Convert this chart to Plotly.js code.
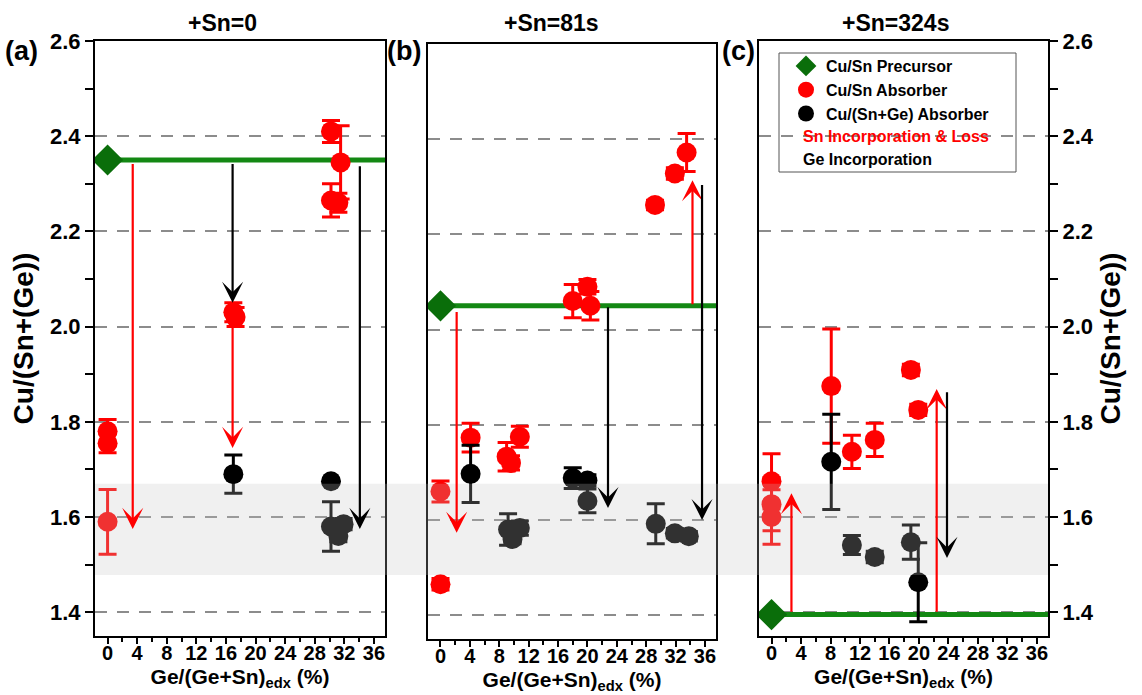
<!DOCTYPE html>
<html>
<head>
<meta charset="utf-8">
<script src="https://cdn.plot.ly/plotly-3.0.1.min.js"></script>
<style>
  html, body { margin: 0; padding: 0; background: #fff; }
  #chart { width: 1142px; height: 695px; }
</style>
</head>
<body>
<div id="chart"></div>
<script>
// ---- panel captions ----
const panelTitles = ['+Sn=0', '+Sn=81s', '+Sn=324s'];
const panelLetters = ['(a)', '(b)', '(c)'];
const legendNames = ['Cu/Sn Precursor', 'Cu/Sn Absorber', 'Cu/(Sn+Ge) Absorber'];
const legendNotes = ['Sn Incorporation & Loss', 'Ge Incorporation'];

// ---- Cu/Sn precursor ratio for each panel (Ge/(Ge+Sn) = 0) ----
const precursorX = [0, 0, 0];
const precursorY = [2.35, 2.05, 1.395];

// ---- panel (a): +Sn = 0 ----
const snA_x   = [0, 0, 0, 17, 17.3, 30.2, 31.5, 30.2, 31.2];
const snA_y   = [1.78, 1.755, 1.59, 2.03, 2.02, 2.41, 2.345, 2.265, 2.26];
const snA_err = [0.025, 0.02, 0.068, 0.02, 0.02, 0.023, 0.077, 0.035, 0.02];
const geA_x   = [17, 30.2, 30.2, 31.9, 31.2];
const geA_y   = [1.69, 1.675, 1.58, 1.585, 1.56];
const geA_err = [0.04, 0, 0.052, 0.012, 0.012];

// ---- panel (b): +Sn = 81 s ----
const snB_x   = [0, 0, 4.1, 9, 9.6, 10.8, 18, 20, 20.4, 29.2, 31.9, 33.5];
const snB_y   = [1.66, 1.465, 1.773, 1.733, 1.72, 1.775, 2.06, 2.09, 2.05, 2.262, 2.328, 2.372];
const snB_err = [0.022, 0.012, 0.03, 0.03, 0.015, 0.022, 0.035, 0.015, 0.03, 0.01, 0.012, 0.04];
const geB_x   = [4.1, 9.2, 10.8, 9.8, 18, 20, 20, 29.3, 31.9, 33.8];
const geB_y   = [1.697, 1.58, 1.583, 1.56, 1.688, 1.683, 1.64, 1.592, 1.572, 1.566];
const geB_err = [0.06, 0.033, 0.015, 0.01, 0.022, 0.012, 0.025, 0.042, 0.01, 0.01];

// ---- panel (c): +Sn = 324 s ----
const snC_x   = [0, 0, 0, 8.1, 10.9, 14, 18.9, 19.9];
const snC_y   = [1.675, 1.627, 1.6, 1.875, 1.737, 1.762, 1.909, 1.825];
const snC_err = [0.058, 0.056, 0.057, 0.12, 0.035, 0.035, 0.012, 0.012];
const geC_x   = [8.1, 10.9, 14, 18.9, 19.9];
const geC_y   = [1.716, 1.541, 1.516, 1.547, 1.463];
const geC_err = [0.1, 0.02, 0.012, 0.036, 0.083];

// ---- trend arrows: x position, start ratio, end ratio, kind ('sn' red / 'ge' black) ----
const arrowA_x = [3.4, 16.9, 16.9, 34.1];
const arrowA_from = [2.345, 2.345, 2.005, 2.34];
const arrowA_to = [1.575, 2.05, 1.745, 1.575];
const arrowA_kind = ['sn', 'ge', 'sn', 'ge'];

const arrowB_x = [2.2, 22.8, 34.3, 35.6];
const arrowB_from = [2.04, 2.05, 2.05, 2.307];
const arrowB_to = [1.573, 1.625, 2.314, 1.6];
const arrowB_kind = ['sn', 'ge', 'sn', 'ge'];

const arrowC_x = [2.7, 22.4, 23.8];
const arrowC_from = [1.398, 1.398, 1.865];
const arrowC_to = [1.65, 1.869, 1.514];
const arrowC_kind = ['sn', 'sn', 'ge'];

// stoichiometry window shaded across all panels
const bandY = [1.478, 1.67];

// ---- styling ----
const FONT = 'Liberation Sans, Arial, Helvetica, sans-serif';
const RED = '#ff0000';
const BLACK = '#000000';
const GREEN_MARK = '#0a6e0a';
const GREEN_LINE = '#138813';
const X_RANGE = [-1.7, 37.5];
const Y_RANGE = [1.35, 2.6];
const W = 1142, H = 695;

// panel boxes in pixels [left, right, top, bottom]
const boxes = [[95, 385, 41, 636], [428, 716, 44, 639], [759, 1048, 41, 636]];

const panels = [
  { sx: snA_x, sy: snA_y, se: snA_err, gx: geA_x, gy: geA_y, ge: geA_err,
    ax: arrowA_x, af: arrowA_from, at: arrowA_to, ak: arrowA_kind },
  { sx: snB_x, sy: snB_y, se: snB_err, gx: geB_x, gy: geB_y, ge: geB_err,
    ax: arrowB_x, af: arrowB_from, at: arrowB_to, ak: arrowB_kind },
  { sx: snC_x, sy: snC_y, se: snC_err, gx: geC_x, gy: geC_y, ge: geC_err,
    ax: arrowC_x, af: arrowC_from, at: arrowC_to, ak: arrowC_kind }
];

const traces = [];
const annotations = [];
const layout = {
  width: W, height: H,
  margin: { l: 0, r: 0, t: 0, b: 0 },
  paper_bgcolor: '#fff', plot_bgcolor: '#fff',
  font: { family: FONT, color: '#000' },
  showlegend: true,
  legend: {
    x: 786 / W, y: 1 - 49 / H, xanchor: 'left', yanchor: 'top',
    bgcolor: 'rgba(0,0,0,0)', borderwidth: 0,
    font: { family: FONT, size: 16, weight: 'bold' },
    itemclick: false, tracegroupgap: 0
  },
  shapes: [],
  annotations: annotations
};

panels.forEach((p, i) => {
  const n = i === 0 ? '' : String(i + 1);
  const xa = 'x' + n, ya = 'y' + n;
  const [L, R, T, B] = boxes[i];
  const legendOn = i === 2;

  // precursor level line
  traces.push({
    x: [precursorX[i], X_RANGE[1]], y: [precursorY[i], precursorY[i]],
    xaxis: xa, yaxis: ya, mode: 'lines', showlegend: false, hoverinfo: 'skip',
    line: { color: GREEN_LINE, width: 5 }
  });
  // Cu/Sn absorber
  traces.push({
    x: p.sx, y: p.sy, xaxis: xa, yaxis: ya, mode: 'markers',
    name: legendNames[1], legendgroup: 'sn', showlegend: legendOn, legendrank: 2,
    marker: { color: RED, size: 20, symbol: 'circle' },
    error_y: { type: 'data', array: p.se, visible: true, color: RED, thickness: 3, width: 9 }
  });
  // Cu/(Sn+Ge) absorber
  traces.push({
    x: p.gx, y: p.gy, xaxis: xa, yaxis: ya, mode: 'markers',
    name: legendNames[2], legendgroup: 'ge', showlegend: legendOn, legendrank: 3,
    marker: { color: BLACK, size: 20, symbol: 'circle' },
    error_y: { type: 'data', array: p.ge, visible: true, color: BLACK, thickness: 3, width: 9 }
  });
  // precursor marker
  traces.push({
    x: [precursorX[i]], y: [precursorY[i]], xaxis: xa, yaxis: ya, mode: 'markers',
    name: legendNames[0], legendgroup: 'pre', showlegend: legendOn, legendrank: 1,
    marker: { color: GREEN_MARK, size: 24, symbol: 'diamond' }
  });

  // axes
  layout['xaxis' + n] = {
    domain: [L / W, R / W], range: X_RANGE, anchor: ya,
    tick0: 0, dtick: 4, ticks: 'outside', ticklen: 6, tickwidth: 2, tickcolor: '#000',
    ticklabelstandoff: -8,
    minor: { dtick: 2, ticks: 'outside', ticklen: 4, tickwidth: 2, tickcolor: '#000', showgrid: false },
    showline: true, linewidth: 2, linecolor: '#000', mirror: true,
    showgrid: false, zeroline: false,
    tickfont: { family: FONT, size: 20, weight: 'bold' },
    title: { text: 'Ge/(Ge+Sn)<sub>edx</sub> (%)', standoff: 6,
             font: { family: FONT, size: 21, weight: 'bold' } }
  };
  const yax = {
    domain: [1 - B / H, 1 - T / H], range: Y_RANGE, anchor: xa,
    tick0: 0, dtick: 0.2, tickformat: '.1f',
    showline: true, linewidth: 2, linecolor: '#000', mirror: true,
    showgrid: true, gridcolor: '#8c8c8c', gridwidth: 2, griddash: '12px,10px',
    zeroline: false,
    tickfont: { family: FONT, size: 22, weight: 'bold' }
  };
  if (i === 1) {
    yax.ticks = '';
    yax.showticklabels = false;
  } else {
    yax.ticks = 'outside'; yax.ticklen = 8; yax.tickwidth = 2; yax.tickcolor = '#000';
    yax.minor = { dtick: 0.1, ticks: 'outside', ticklen: 8, tickwidth: 2, tickcolor: '#000', showgrid: false };
    yax.title = { text: 'Cu/(Sn+(Ge))', standoff: 8,
                  font: { family: FONT, size: 28, weight: 'bold' } };
    if (i === 2) yax.side = 'right';
  }
  layout['yaxis' + n] = yax;

  // trend arrows
  p.ax.forEach((x, k) => {
    annotations.push({
      xref: xa, yref: ya, axref: xa, ayref: ya,
      x: x, y: p.at[k], ax: x, ay: p.af[k], text: '',
      showarrow: true, arrowhead: 3, arrowsize: 1.6, arrowwidth: 2.2,
      arrowcolor: p.ak[k] === 'sn' ? RED : BLACK, standoff: 0, startstandoff: 0
    });
  });

  // panel title and letter
  const tCenter = [222, 551, 895][i];
  annotations.push({
    xref: 'paper', yref: 'paper', x: tCenter / W, y: 1 - 23 / H,
    xanchor: 'center', yanchor: 'middle', showarrow: false, text: panelTitles[i],
    font: { family: FONT, size: 23, weight: 'bold' }
  });
  const lLeft = [3, 385, 720][i];
  annotations.push({
    xref: 'paper', yref: 'paper', x: lLeft / W, y: 1 - 51 / H,
    xanchor: 'left', yanchor: 'middle', showarrow: false, text: panelLetters[i],
    font: { family: FONT, size: 27, weight: 'bold' }
  });
});

// shaded window over all three panels
layout.shapes.push({
  type: 'rect', xref: 'paper', yref: 'y', layer: 'above',
  x0: boxes[0][0] / W, x1: boxes[2][1] / W, y0: bandY[0], y1: bandY[1],
  fillcolor: 'rgba(196,196,196,0.25)', line: { width: 0 }
});

// legend frame and the two arrow notes
layout.shapes.push({
  type: 'rect', xref: 'paper', yref: 'paper', layer: 'above',
  x0: 779 / W, x1: 1016 / W, y0: 1 - 172 / H, y1: 1 - 53 / H,
  fillcolor: 'rgba(0,0,0,0)', line: { color: '#555', width: 1 }
});
legendNotes.forEach((t, k) => {
  annotations.push({
    xref: 'paper', yref: 'paper', x: 801 / W, y: 1 - (136 + 23 * k) / H,
    xanchor: 'left', yanchor: 'middle', showarrow: false, text: t,
    font: { family: FONT, size: 16, weight: 'bold', color: k === 0 ? RED : BLACK }
  });
});

Plotly.newPlot('chart', traces, layout, { displayModeBar: false, staticPlot: true });
</script>
</body>
</html>
